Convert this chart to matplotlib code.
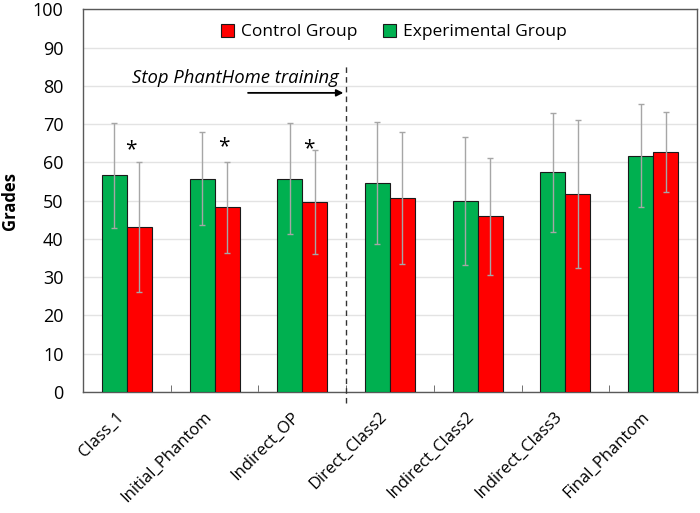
import matplotlib.pyplot as plt
import numpy as np

# Data
categories = ["Class_1", "Initial_Phantom", "Indirect_OP", "Direct_Class2",
              "Indirect_Class2", "Indirect_Class3", "Final_Phantom"]
experimental = [56.6, 55.8, 55.8, 54.7, 49.9, 57.4, 61.8]
experimental_sd = [13.6, 12.1, 14.5, 16.0, 16.8, 15.5, 13.4]
control = [43.2, 48.3, 49.6, 50.7, 45.9, 51.7, 62.8]
control_sd = [17.0, 11.9, 13.6, 17.2, 15.2, 19.4, 10.5]
star_x = [0.04, 1.11, 2.07]
star_y = [63.3, 64.0, 63.6]

plt.rcParams['font.family'] = ['Open Sans', 'DejaVu Sans']

fig = plt.figure(figsize=(7, 5.13), dpi=100)
ax = fig.add_axes([0.1186, 0.2359, 0.877, 0.7456])

x = np.arange(len(categories))
w = 0.285
err_style = dict(ecolor="#a6a6a6", elinewidth=1.0, capsize=2.5, capthick=1.0)

ax.bar(x - w / 2, experimental, w, yerr=experimental_sd, color="#00b050",
       edgecolor="#1a1a1a", linewidth=0.8, error_kw=err_style,
       label="Experimental Group", zorder=3)
ax.bar(x + w / 2, control, w, yerr=control_sd, color="#ff0000",
       edgecolor="#1a1a1a", linewidth=0.8, error_kw=err_style,
       label="Control Group", zorder=3)

# significance stars
for sx, sy in zip(star_x, star_y):
    ax.text(sx, sy, "*", fontsize=15, ha="center", va="center", zorder=4)

# training stop marker
ax.plot([2.5, 2.5], [-3, 86], ls=(0, (4, 3)), color="#333333", lw=1.0,
        clip_on=False, zorder=4)
ax.annotate("", xy=(2.5, 78.2), xytext=(1.35, 78.2),
            arrowprops=dict(arrowstyle="-|>", color="black", lw=1.3,
                            mutation_scale=10))
ax.text(1.24, 82.0, "Stop PhantHome training", style="italic", fontsize=13.3,
        ha="center", va="center")

ax.set_xlim(-0.5, len(categories) - 0.5)
ax.set_ylim(0, 100)
ax.set_yticks(np.arange(0, 101, 10))
ax.grid(axis="y", color="#e3e3e3", lw=1.0, zorder=0)
ax.set_axisbelow(True)

ax.set_xticks(x)
ax.set_xticklabels(categories, rotation=45, ha="right", fontsize=12)
ax.set_xticks(np.arange(0.5, len(categories) - 1, 1), minor=True)
ax.tick_params(axis="x", which="major", length=0, pad=12)
ax.tick_params(axis="x", which="minor", direction="in", length=5,
               color="#595959")
ax.tick_params(axis="y", length=0, pad=14, labelsize=13)

for s in ax.spines.values():
    s.set_color("#595959")
    s.set_linewidth(1.0)

ax.set_ylabel("Grades", fontsize=12, fontweight="bold", labelpad=10)

h, l = ax.get_legend_handles_labels()
ax.legend(h[::-1], l[::-1], loc="center", bbox_to_anchor=(0.506, 0.941),
          ncol=2, frameon=False, fontsize=12.5, handlelength=0.75,
          handleheight=0.75, handletextpad=0.4, columnspacing=1.5)

fig.savefig("out.png", dpi=100)
